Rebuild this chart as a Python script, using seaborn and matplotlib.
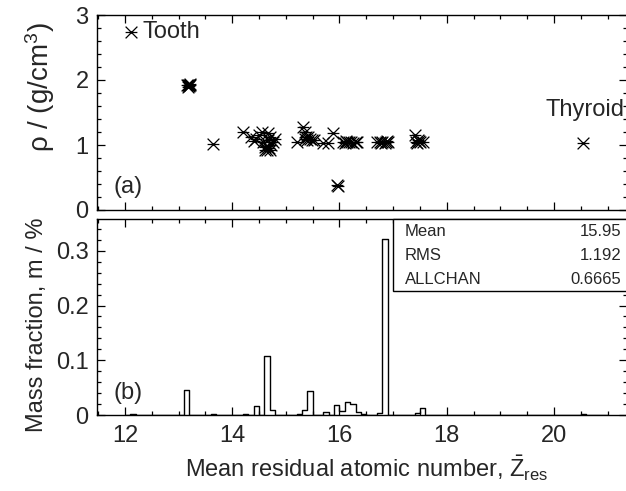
import numpy as np
import pandas as pd
import matplotlib
matplotlib.use("Agg")
import matplotlib.pyplot as plt
import seaborn as sns
from matplotlib.path import Path
from matplotlib.patches import Rectangle
from matplotlib.ticker import MultipleLocator, FixedLocator, FixedFormatter

# ---- data: top panel (tissue density vs mean residual Z) ----
z_res = [12.12,
         13.15, 13.17, 13.19, 13.20, 13.22, 13.17, 13.21,
         13.65,
         14.20, 14.36, 14.45, 14.40, 14.55, 14.50, 14.67, 14.58, 14.62, 14.65,
         14.68, 14.61, 14.70, 14.64, 14.72, 14.80, 14.76, 14.66, 14.70,
         15.20, 15.32, 15.35, 15.38, 15.42, 15.45, 15.48, 15.40, 15.52, 15.35, 15.70,
         15.79, 15.88, 15.95, 15.97,
         16.06, 16.10, 16.14, 16.18, 16.22, 16.26, 16.30, 16.33, 16.12,
         16.70, 16.76, 16.80, 16.84, 16.88, 16.91, 16.78, 16.86,
         17.40, 17.42, 17.45, 17.48, 17.50, 17.55, 17.46,
         20.54]
density = [2.74,
           1.92, 1.93, 1.91, 1.92, 1.93, 1.90, 1.94,
           1.02,
           1.20, 1.13, 1.10, 1.06, 1.20, 1.15, 1.18, 1.04, 0.97, 0.93,
           0.95, 0.92, 0.92, 0.99, 1.00, 1.10, 1.05, 1.08, 1.12,
           1.05, 1.28, 1.20, 1.12, 1.13, 1.10, 1.08, 1.07, 1.08, 1.10, 1.03,
           1.03, 1.18, 0.38, 0.37,
           1.05, 1.03, 1.04, 1.05, 1.04, 1.03, 1.05, 1.04, 1.06,
           1.05, 1.04, 1.05, 1.03, 1.06, 1.04, 1.03, 1.05,
           1.15, 1.05, 1.03, 1.06, 1.04, 1.05, 1.08,
           1.03]

# ---- data: bottom panel (mass fraction histogram, bin width 0.1) ----
bin_centers = [12.15, 13.15, 13.65, 14.25, 14.45, 14.65, 14.75, 15.25, 15.35,
               15.45, 15.75, 15.95, 16.05, 16.15, 16.25, 16.35, 16.45, 16.75,
               16.85, 17.45, 17.55, 20.55]
mass_fraction = [0.001, 0.045, 0.002, 0.001, 0.016, 0.108, 0.010, 0.002, 0.010,
                 0.044, 0.005, 0.018, 0.008, 0.023, 0.021, 0.0055, 0.002, 0.004,
                 0.322, 0.004, 0.013, 0.001]

y_tick_vals_b = [0, 0.1, 0.2, 0.3]
y_tick_labels_b = ["0", "0.1", "0.2", "0.3"]
stats_names = ["Mean", "RMS", "ALLCHAN"]
stats_values = ["15.95", "1.192", "0.6665"]

sns.set_style("ticks")
plt.rcParams['font.family'] = ['Liberation Sans', 'DejaVu Sans']
plt.rcParams['mathtext.fontset'] = 'custom'
plt.rcParams['mathtext.rm'] = 'Liberation Sans'
plt.rcParams['mathtext.it'] = 'Liberation Sans'
plt.rcParams['mathtext.bf'] = 'Liberation Sans:bold'

FS = 17
W, H = 626, 491
fig = plt.figure(figsize=(W / 100, H / 100), dpi=100)
left = 97 / W
width = (627 - 97) / W
ax1 = fig.add_axes([left, 1 - 210 / H, width, 195 / H])
ax2 = fig.add_axes([left, 1 - 415 / H, width, 196 / H])

# asterisk-like marker: X plus horizontal bar
star = Path([(-1, -1), (1, 1), (-1, 1), (1, -1), (-1, 0), (1, 0)],
            [Path.MOVETO, Path.LINETO, Path.MOVETO, Path.LINETO, Path.MOVETO, Path.LINETO])

df_top = pd.DataFrame({"z": z_res, "rho": density})
sns.scatterplot(data=df_top, x="z", y="rho", ax=ax1, marker=star, s=72,
                color="black", edgecolor="black", linewidth=0.9, legend=False)

df_bot = pd.DataFrame({"z": bin_centers, "m": mass_fraction})
sns.histplot(data=df_bot, x="z", weights="m", binwidth=0.1, binrange=(12, 21),
             element="step", fill=False, color="black", linewidth=1.0, ax=ax2)

xlim = (11.48, 21.36)
for ax in (ax1, ax2):
    ax.set_xlim(*xlim)
    ax.xaxis.set_major_locator(MultipleLocator(2))
    ax.xaxis.set_minor_locator(MultipleLocator(0.5))
    ax.tick_params(which="both", direction="in", top=True, right=True,
                   labelsize=FS, width=0.9, color="black")
    ax.tick_params(which="major", length=6)
    ax.tick_params(which="minor", length=3)
    ax.tick_params(axis="y", pad=6)
    ax.tick_params(axis="x", pad=7)
    ax.set_xlabel("")
    ax.set_ylabel("")
    for sp in ax.spines.values():
        sp.set_visible(True)
        sp.set_linewidth(1.0)
        sp.set_color("black")

ax1.set_ylim(0, 3)
ax1.yaxis.set_major_locator(MultipleLocator(1))
ax1.yaxis.set_minor_locator(MultipleLocator(0.2))
ax1.tick_params(axis="x", labelbottom=False)

ax2.set_ylim(0, 0.358)
ax2.yaxis.set_major_locator(FixedLocator(y_tick_vals_b))
ax2.yaxis.set_major_formatter(FixedFormatter(y_tick_labels_b))
ax2.yaxis.set_minor_locator(MultipleLocator(0.02))

# annotations
ax1.text(12.33, 2.74, "Tooth", fontsize=FS, ha="left", va="center")
ax1.text(21.31, 1.54, "Thyroid", fontsize=FS, ha="right", va="center")
ax1.text(11.78, 0.35, "(a)", fontsize=FS, ha="left", va="center")
ax2.text(11.78, 0.04, "(b)", fontsize=FS, ha="left", va="center")

# stats box
bx0 = (392.7 - 97) / (627 - 97)
by0 = (415 - 291) / 196
ax2.add_patch(Rectangle((bx0, by0), 1.01 - bx0, 1 - by0, transform=ax2.transAxes,
                        facecolor="white", edgecolor="black", linewidth=1.0,
                        zorder=5, clip_on=False))
ys = [(415 - 231.7) / 196, (415 - 255.5) / 196, (415 - 279.5) / 196]
tx = (405 - 97) / (627 - 97)
vx = (621.5 - 97) / (627 - 97)
for name, val, yy in zip(stats_names, stats_values, ys):
    ax2.text(tx, yy, name, transform=ax2.transAxes, fontsize=12, ha="left",
             va="center", zorder=6)
    ax2.text(vx, yy, val, transform=ax2.transAxes, fontsize=12, ha="right",
             va="center", zorder=6)

# axis titles
fig.text(40 / W, 1 - 22 / H, r"ρ / (g/cm$^{3}$)", rotation=90, fontsize=20,
         ha="center", va="top")
fig.text(37 / W, 1 - 217 / H, "Mass fraction, m / %", rotation=90, fontsize=FS,
         ha="center", va="top")
fig.text(367 / W, 1 - 468 / H,
         r"Mean residual atomic number, $\bar{\mathrm{Z}}_{\mathrm{res}}$",
         fontsize=FS, ha="center", va="center")

fig.savefig("out.png", dpi=100)
